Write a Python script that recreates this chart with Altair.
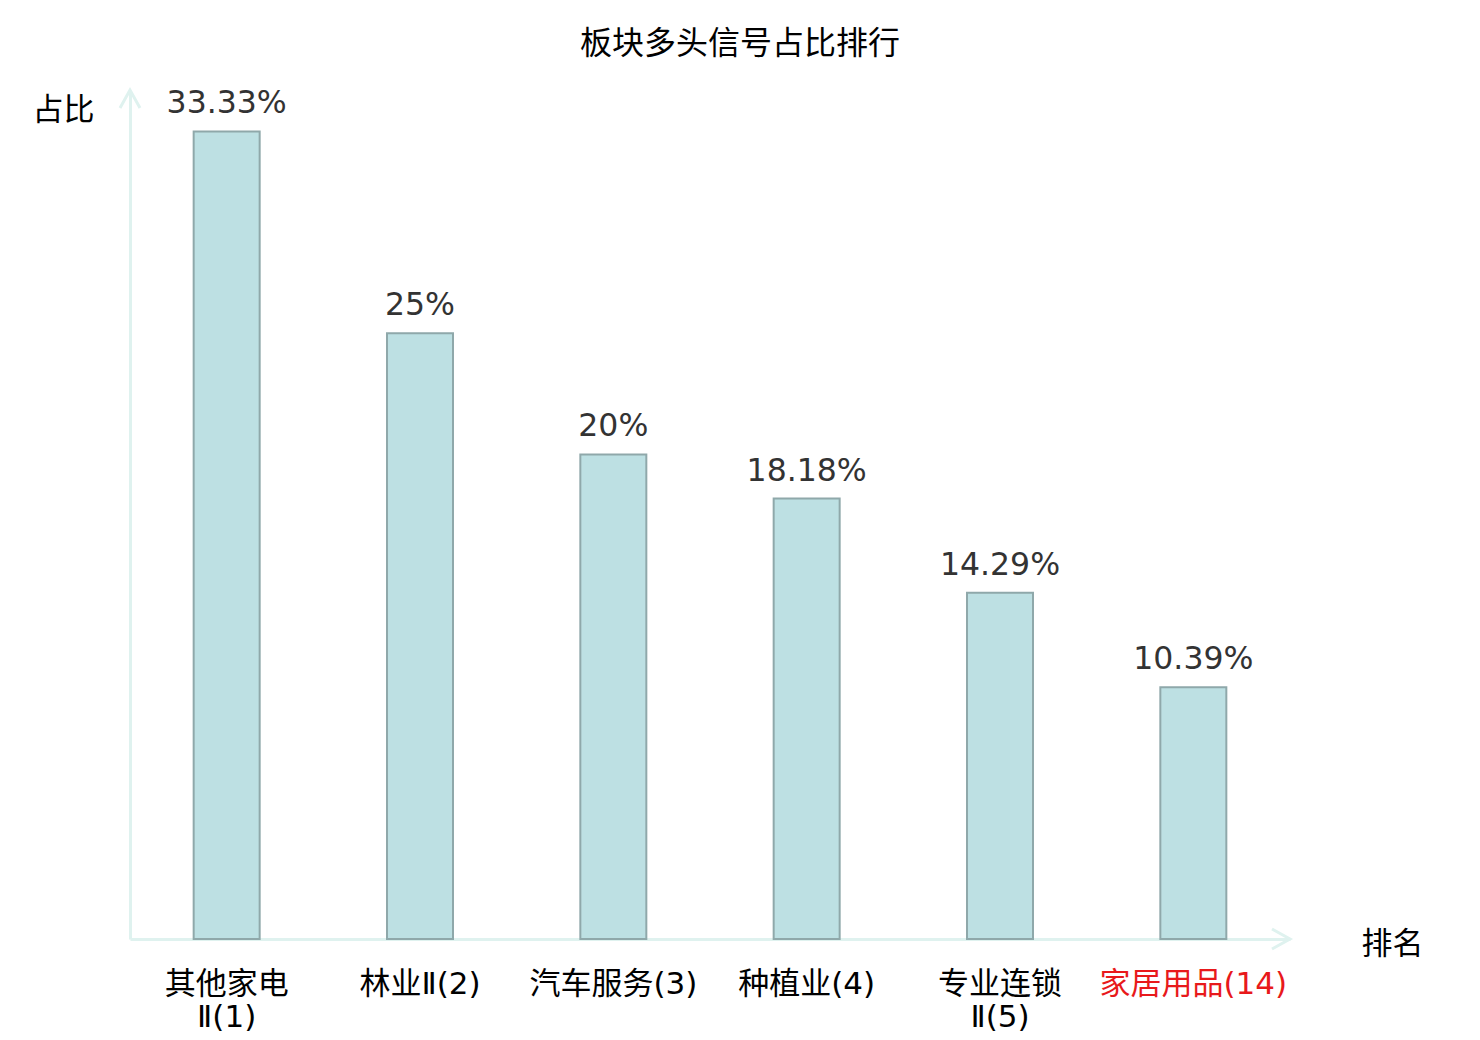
import altair as alt
import pandas as pd

# ---- data ----
categories = ["其他家电|Ⅱ(1)", "林业Ⅱ(2)", "汽车服务(3)", "种植业(4)", "专业连锁|Ⅱ(5)", "家居用品(14)"]
values = [33.33, 25, 20, 18.18, 14.29, 10.39]
value_labels = ["33.33%", "25%", "20%", "18.18%", "14.29%", "10.39%"]
highlight = "家居用品(14)"

df = pd.DataFrame({"cat": categories, "val": values, "txt": value_labels})

CJK = "Noto Sans CJK SC"
LABEL_FONT = "DejaVu Sans, Noto Sans CJK SC"
AXIS_COLOR = "#dff2ef"

x_enc = alt.X(
    "cat:N",
    sort=categories,
    scale=alt.Scale(paddingInner=0, paddingOuter=0),
    axis=alt.Axis(
        title="排名",
        titleFont=CJK,
        titleFontSize=31,
        titleFontWeight="normal",
        titleColor="#000000",
        titleAngle=0,
        titleAnchor="start",
        titleAlign="center",
        titleBaseline="middle",
        titleX=1262,
        titleY=5,
        labelAngle=0,
        labelFont=LABEL_FONT,
        labelFontSize=31,
        labelLineHeight=33,
        labelPadding=30,
        labelLimit=400,
        labelExpr="split(datum.value, '|')",
        labelColor={
            "condition": {"test": f"datum.value == '{highlight}'", "value": "#e8191b"},
            "value": "#000000",
        },
        ticks=False,
        domainColor=AXIS_COLOR,
        domainWidth=3,
        grid=False,
    ),
)

y_enc = alt.Y(
    "val:Q",
    scale=alt.Scale(domain=[0, 35], nice=False, zero=True),
    axis=alt.Axis(
        title="占比",
        titleFont=CJK,
        titleFontSize=31,
        titleFontWeight="normal",
        titleColor="#000000",
        titleAngle=0,
        titleAlign="center",
        titleBaseline="middle",
        titleX=-67,
        titleY=19,
        labels=False,
        ticks=False,
        grid=False,
        domainColor=AXIS_COLOR,
        domainWidth=3,
    ),
)

bars = alt.Chart(df).mark_bar(
    size=66, color="#bde0e3", stroke="#8fa8aa", strokeWidth=2
).encode(x=x_enc, y=y_enc)

texts = alt.Chart(df).mark_text(
    font="DejaVu Sans", fontSize=31.5, color="#333333", baseline="alphabetic", dy=-18
).encode(x=alt.X("cat:N", sort=categories), y="val:Q", text="txt:N")

arrow_y = alt.Chart(df.head(1)).mark_point(
    shape="M-1,1.8L0,0L1,1.8", size=400, filled=False, stroke=AXIS_COLOR,
    strokeWidth=3, opacity=1
).encode(x=alt.value(0), y=alt.value(-1))

arrow_x = alt.Chart(df.head(1)).mark_point(
    shape="M-1.8,-1L0,0L-1.8,1", size=400, filled=False, stroke=AXIS_COLOR,
    strokeWidth=3, opacity=1
).encode(x=alt.value(1160), y=alt.value(848))

chart = alt.layer(bars, texts, arrow_y, arrow_x).properties(
    width=1160,
    height=848,
    title=alt.TitleParams(
        text="板块多头信号占比排行",
        font=CJK,
        fontSize=32,
        fontWeight="normal",
        color="#000000",
        anchor="middle",
        baseline="bottom",
        offset=30,
        dx=30,
        dy=39,
    ),
    autosize=alt.AutoSizeParams(type="none"),
    padding={"left": 122, "top": 83, "right": 182, "bottom": 93},
).configure(background="#ffffff").configure_view(strokeWidth=0)

chart.save("out.html", embed_options={"renderer": "svg", "actions": False})
